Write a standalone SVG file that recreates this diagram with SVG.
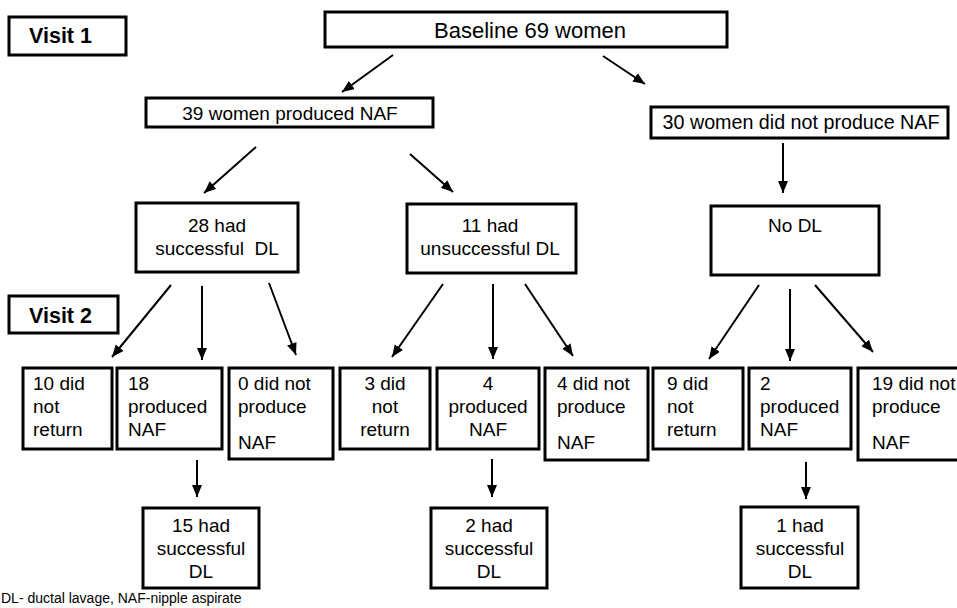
<svg xmlns="http://www.w3.org/2000/svg" width="957" height="608" viewBox="0 0 957 608">
<defs>
<marker id="ah" markerUnits="userSpaceOnUse" markerWidth="13" markerHeight="11" refX="12" refY="5" orient="auto">
<path d="M0,0 L12,5 L0,10 z" fill="#000"/>
</marker>
<style>
.box{fill:#fff;stroke:#000;stroke-width:3}
.t{font-family:"Liberation Sans",Arial,sans-serif;font-size:19px;fill:#000}
.c{text-anchor:middle}
.b{font-weight:bold;font-size:21.5px}
.a{stroke:#000;stroke-width:2;fill:none;marker-end:url(#ah)}
.fn{font-family:"Liberation Sans",Arial,sans-serif;font-size:14px;fill:#000}
</style>
</defs>
<rect width="957" height="608" fill="#fff"/>
<g id="visit1"><rect class="box" x="9" y="17" width="117" height="38"/><text class="t b" x="29" y="43">Visit 1</text></g>
<g id="baseline"><rect class="box" x="325" y="12" width="402" height="35"/><text class="t c" x="530" y="38" style="font-size:22px">Baseline 69 women</text></g>
<g id="produced39"><rect class="box" x="146" y="98" width="287" height="29"/><text class="t c" x="290" y="120">39 women produced NAF</text></g>
<g id="notproduced30"><rect class="box" x="651" y="107" width="297" height="31"/><text class="t c" x="801" y="129" style="font-size:19.7px">30 women did not produce NAF</text></g>
<g id="succ28"><rect class="box" x="136" y="203" width="162" height="69"/><text class="t c" x="217" y="232">28 had</text><text class="t c" x="217" y="255" xml:space="preserve">successful  DL</text></g>
<g id="unsucc11"><rect class="box" x="407" y="204" width="169" height="69"/><text class="t c" x="490" y="232">11 had</text><text class="t c" x="490" y="255">unsuccessful DL</text></g>
<g id="nodl"><rect class="box" x="711" y="206" width="168" height="69"/><text class="t c" x="795" y="232">No DL</text></g>
<g id="visit2"><rect class="box" x="9" y="296" width="109" height="37"/><text class="t b" x="29" y="323">Visit 2</text></g>
<g id="n10"><rect class="box" x="23" y="368" width="89" height="81"/><text class="t" x="33" y="390">10 did</text><text class="t" x="33" y="413">not</text><text class="t" x="33" y="436">return</text></g>
<g id="n18"><rect class="box" x="117" y="368" width="105" height="81"/><text class="t" x="128" y="390">18</text><text class="t" x="128" y="413">produced</text><text class="t" x="128" y="436">NAF</text></g>
<g id="n0"><rect class="box" x="229" y="368" width="104" height="91"/><text class="t" x="238" y="390">0 did not</text><text class="t" x="238" y="413">produce</text><text class="t" x="238" y="449">NAF</text></g>
<g id="n3"><rect class="box" x="340" y="368" width="90" height="81"/><text class="t c" x="385" y="390">3 did</text><text class="t c" x="385" y="413">not</text><text class="t c" x="385" y="436">return</text></g>
<g id="n4p"><rect class="box" x="437" y="368" width="102" height="81"/><text class="t c" x="488" y="390">4</text><text class="t c" x="488" y="413">produced</text><text class="t c" x="488" y="436">NAF</text></g>
<g id="n4n"><rect class="box" x="545" y="368" width="103" height="92"/><text class="t" x="557" y="390">4 did not</text><text class="t" x="557" y="413">produce</text><text class="t" x="557" y="449">NAF</text></g>
<g id="n9"><rect class="box" x="653" y="368" width="90" height="81"/><text class="t" x="667" y="390">9 did</text><text class="t" x="667" y="413">not</text><text class="t" x="667" y="436">return</text></g>
<g id="n2p"><rect class="box" x="749" y="368" width="102" height="81"/><text class="t" x="760" y="390">2</text><text class="t" x="760" y="413">produced</text><text class="t" x="760" y="436">NAF</text></g>
<g id="n19"><rect class="box" x="858" y="368" width="110" height="92"/><text class="t" x="872" y="390">19 did not</text><text class="t" x="872" y="413">produce</text><text class="t" x="872" y="449">NAF</text></g>
<g id="s15"><rect class="box" x="143" y="508" width="116" height="80"/><text class="t c" x="201" y="532">15 had</text><text class="t c" x="201" y="555">successful</text><text class="t c" x="201" y="578">DL</text></g>
<g id="s2"><rect class="box" x="431" y="508" width="116" height="80"/><text class="t c" x="489" y="532">2 had</text><text class="t c" x="489" y="555">successful</text><text class="t c" x="489" y="578">DL</text></g>
<g id="s1"><rect class="box" x="741" y="507" width="117" height="81"/><text class="t c" x="800" y="532">1 had</text><text class="t c" x="800" y="555">successful</text><text class="t c" x="800" y="578">DL</text></g>
<g id="connectors">
<line class="a" x1="393" y1="55" x2="342" y2="92"/>
<line class="a" x1="603" y1="56" x2="645" y2="84"/>
<line class="a" x1="256" y1="147" x2="204" y2="193"/>
<line class="a" x1="410" y1="154" x2="453" y2="192"/>
<line class="a" x1="783" y1="143" x2="783" y2="193"/>
<line class="a" x1="171" y1="285" x2="112" y2="357"/>
<line class="a" x1="202" y1="286" x2="202" y2="360"/>
<line class="a" x1="269" y1="283" x2="296" y2="355"/>
<line class="a" x1="443" y1="284" x2="392" y2="357"/>
<line class="a" x1="493" y1="284" x2="493" y2="359"/>
<line class="a" x1="525" y1="284" x2="573" y2="356"/>
<line class="a" x1="759" y1="285" x2="709" y2="359"/>
<line class="a" x1="790" y1="289" x2="790" y2="361"/>
<line class="a" x1="815" y1="285" x2="873" y2="352"/>
<line class="a" x1="197" y1="460" x2="197" y2="497"/>
<line class="a" x1="492" y1="459" x2="492" y2="497"/>
<line class="a" x1="806" y1="462" x2="806" y2="499"/>
</g>
<text class="fn" x="1" y="603">DL- ductal lavage, NAF-nipple aspirate</text>
</svg>
